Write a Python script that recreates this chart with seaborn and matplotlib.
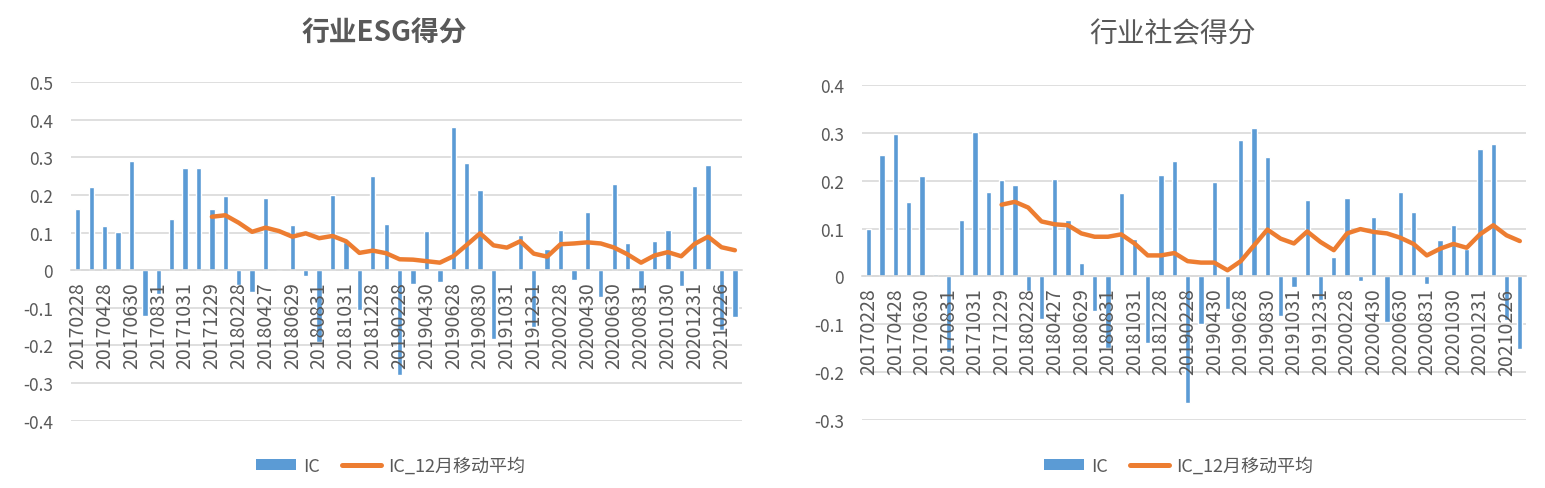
import numpy as np
import pandas as pd
import matplotlib
matplotlib.use("Agg")
import matplotlib.pyplot as plt
import seaborn as sns
from matplotlib.patches import Patch
from matplotlib.lines import Line2D

sns.set_theme(style="whitegrid")
plt.rcParams["font.family"] = ["Noto Sans CJK SC", "DejaVu Sans"]
plt.rcParams["axes.unicode_minus"] = False

BLUE = "#5B9BD5"
ORANGE = "#ED7D31"
GRAY = "#595959"
GRID = "#D9D9D9"

dates = ["20170228", "20170331", "20170428", "20170531", "20170630", "20170731",
         "20170831", "20170929", "20171031", "20171130", "20171229", "20180131",
         "20180228", "20180330", "20180427", "20180531", "20180629", "20180731",
         "20180831", "20180928", "20181031", "20181130", "20181228", "20190131",
         "20190228", "20190329", "20190430", "20190531", "20190628", "20190731",
         "20190830", "20190930", "20191031", "20191129", "20191231", "20200123",
         "20200228", "20200331", "20200430", "20200529", "20200630", "20200731",
         "20200831", "20200930", "20201030", "20201130", "20201231", "20210129",
         "20210226", "20210331"]

# 行业ESG得分
esg_ic = [0.163, 0.222, 0.117, 0.101, 0.289, -0.121, -0.062, 0.136, 0.271, 0.271,
          0.163, 0.196, -0.040, -0.059, 0.192, 0.0, 0.119, -0.015, -0.190, 0.199,
          0.075, -0.105, 0.251, 0.122, -0.278, -0.038, 0.104, -0.032, 0.380, 0.286,
          0.213, -0.183, 0.0, 0.093, -0.150, 0.057, 0.107, -0.027, 0.154, -0.071,
          0.230, 0.072, -0.050, 0.078, 0.107, -0.041, 0.224, 0.280, -0.160, -0.125]
esg_ma = [np.nan] * 10 + [
    0.142, 0.146, 0.126, 0.102, 0.113, 0.104, 0.089, 0.098, 0.085, 0.091,
    0.077, 0.046, 0.052, 0.045, 0.029, 0.028, 0.024, 0.020, 0.037, 0.067,
    0.098, 0.066, 0.060, 0.077, 0.044, 0.036, 0.069, 0.071, 0.074, 0.071,
    0.060, 0.042, 0.020, 0.039, 0.048, 0.037, 0.070, 0.089, 0.061, 0.053]

# 行业社会得分
soc_ic = [0.100, 0.253, 0.297, 0.156, 0.210, 0.005, -0.157, 0.117, 0.301, 0.176,
          0.201, 0.192, -0.030, -0.089, 0.203, 0.117, 0.028, -0.072, -0.150, 0.174,
          0.078, -0.140, 0.212, 0.242, -0.265, -0.100, 0.197, -0.068, 0.285, 0.310,
          0.249, -0.082, -0.022, 0.160, -0.050, 0.040, 0.165, -0.010, 0.124, -0.096,
          0.176, 0.135, -0.016, 0.076, 0.108, 0.058, 0.267, 0.276, -0.090, -0.152]
soc_ma = [np.nan] * 10 + [
    0.150, 0.156, 0.144, 0.115, 0.109, 0.107, 0.090, 0.083, 0.083, 0.088,
    0.069, 0.044, 0.044, 0.049, 0.032, 0.029, 0.029, 0.013, 0.032, 0.065,
    0.098, 0.079, 0.069, 0.094, 0.072, 0.055, 0.090, 0.099, 0.093, 0.090,
    0.081, 0.068, 0.044, 0.058, 0.068, 0.060, 0.088, 0.107, 0.086, 0.074]

panels = [
    ("行业ESG得分", esg_ic, esg_ma, (-0.4, 0.5), [0.046, 0.1376, 0.434, 0.6926], 0.249, "bold"),
    ("行业社会得分", soc_ic, soc_ma, (-0.3, 0.4), [0.558, 0.139, 0.430, 0.685], 0.759, "normal"),
]

fig = plt.figure(figsize=(15.45, 4.89), dpi=100)

for title, ic, ma, ylim, rect, cx, weight in panels:
    ax = fig.add_axes(rect)
    df = pd.DataFrame({"date": dates, "IC": ic, "MA": ma})
    sns.barplot(data=df, x="date", y="IC", color=BLUE, saturation=1,
                width=0.4, ax=ax)
    ax.plot(np.arange(len(df)), df["MA"], color=ORANGE, lw=3.2,
            solid_capstyle="round", solid_joinstyle="round", zorder=4)

    # x axis labels sit on the zero line, like the Excel original
    ax.spines["bottom"].set_position(("data", 0))
    for s in ["top", "left", "right"]:
        ax.spines[s].set_visible(False)
    ax.spines["bottom"].set_color(GRID)
    ax.spines["bottom"].set_linewidth(1.2)

    ax.set_xlim(-0.5, len(df) - 0.5)
    ax.set_ylim(*ylim)
    yt = np.round(np.arange(ylim[0], ylim[1] + 0.001, 0.1), 1)
    ax.set_yticks(yt)
    ax.set_yticklabels([f"{v:g}" if v != 0 else "0" for v in yt])
    ax.set_xticks(np.arange(0, len(df), 2))
    ax.set_xticklabels(dates[::2])

    ax.grid(axis="y", color=GRID, lw=1.2)
    ax.grid(axis="x", visible=False)
    ax.tick_params(axis="x", length=0, pad=8, labelsize=14, labelcolor=GRAY,
                   labelrotation=90)
    ax.tick_params(axis="y", length=0, pad=13, labelsize=12.5, labelcolor=GRAY)
    ax.set_xlabel("")
    ax.set_ylabel("")
    ax.set_facecolor("white")
    # gridlines behind bars, date labels on top of them
    ax.yaxis.set_zorder(0.5)
    ax.xaxis.set_zorder(3)

    fig.text(cx, 1 - 34 / 489, title, ha="center", va="center",
             fontsize=20, color=GRAY, fontweight=weight)

    handles = [Patch(facecolor=BLUE, edgecolor="none"),
               Line2D([0], [0], color=ORANGE, lw=3.6, solid_capstyle="round")]
    ax.legend(handles, ["IC", "IC_12月移动平均"], loc="center",
              bbox_to_anchor=(cx + 0.004, 0.045), bbox_transform=fig.transFigure,
              ncol=2, frameon=False, fontsize=13, labelcolor=GRAY,
              handlelength=2.2, handleheight=0.5, handletextpad=0.4,
              columnspacing=1.2)

fig.savefig("out.png", dpi=100, facecolor="white")
